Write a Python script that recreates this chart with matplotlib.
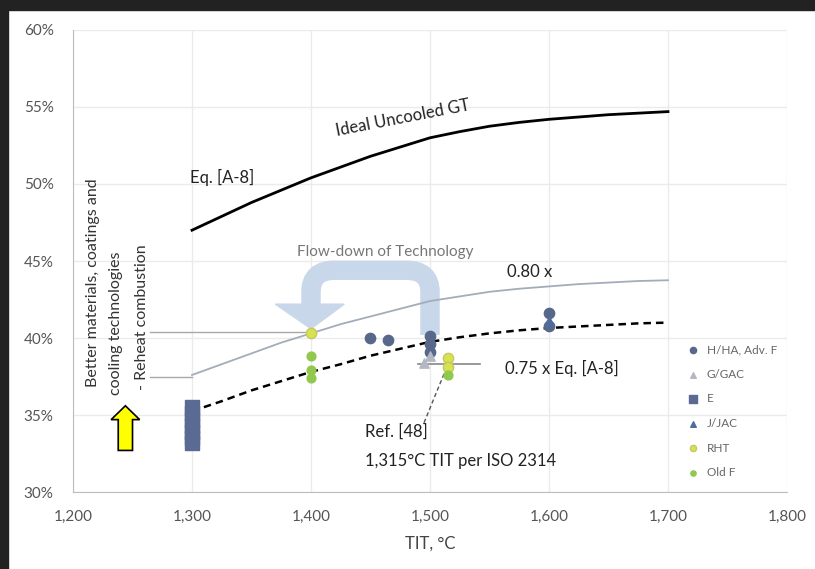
import numpy as np
import matplotlib
matplotlib.use('Agg')
import matplotlib.pyplot as plt
from matplotlib.patches import Rectangle, Polygon, PathPatch, FancyArrow
from matplotlib.path import Path

plt.rcParams['font.family'] = ['Lato', 'DejaVu Sans']

# curvas
tit_curva = [1300, 1325, 1350, 1375, 1400, 1425, 1450, 1475, 1500,
             1525, 1550, 1575, 1600, 1625, 1650, 1675, 1700]
ideal = [47.0, 47.9, 48.8, 49.6, 50.4, 51.1, 51.8, 52.4, 53.0,
         53.4, 53.75, 54.0, 54.2, 54.35, 54.5, 54.6, 54.7]
x080 = [37.6, 38.3, 39.0, 39.7, 40.3, 40.9, 41.4, 41.9, 42.4,
        42.7, 43.0, 43.2, 43.35, 43.5, 43.6, 43.7, 43.75]
x075 = [35.25, 35.9, 36.6, 37.2, 37.8, 38.3, 38.85, 39.3, 39.75,
        40.05, 40.3, 40.5, 40.65, 40.75, 40.85, 40.95, 41.0]

# puntos por clase
h_tit = [1450, 1465, 1500, 1500, 1500, 1600, 1600]
h_ef = [40.0, 39.9, 40.1, 39.6, 39.1, 41.6, 40.8]
g_tit = [1500, 1495]
g_ef = [38.8, 38.4]
e_tit = [1300, 1300, 1300, 1300, 1300, 1300, 1300]
e_ef = [35.5, 35.1, 34.7, 34.3, 33.9, 33.5, 33.2]
j_tit = [1600]
j_ef = [41.1]
rht_tit = [1400, 1515, 1515]
rht_ef = [40.3, 38.7, 38.1]
oldf_tit = [1400, 1400, 1400, 1515]
oldf_ef = [38.8, 37.9, 37.4, 37.6]

fig = plt.figure(figsize=(8.15, 5.69), dpi=100)
ax = fig.add_axes([0.0896, 0.1353, 0.8760, 0.8120])

# bordo escuro
fig.patches.append(Rectangle((0, 1 - 10/569), 1, 10/569, transform=fig.transFigure,
                             color='#222222', zorder=-1))
fig.patches.append(Rectangle((0, 0), 8/815, 1, transform=fig.transFigure,
                             color='#222222', zorder=-1))

ax.set_xlim(1200, 1800)
ax.set_ylim(30, 60)
ax.set_xticks(np.arange(1200, 1801, 100))
ax.set_yticks(np.arange(30, 61, 5))
ax.set_xticklabels([f'{v:,}' for v in range(1200, 1801, 100)])
ax.set_yticklabels([f'{v}%' for v in range(30, 61, 5)])
ax.grid(True, color='#ebebeb', lw=1)
ax.set_axisbelow(True)
for s in ['top', 'right']:
    ax.spines[s].set_visible(False)
for s in ['left', 'bottom']:
    ax.spines[s].set_color('#bdbdbd')
ax.tick_params(length=0, labelsize=11, colors='#555555')
ax.tick_params(axis='x', pad=13)
ax.tick_params(axis='y', pad=14)
ax.set_xlabel('TIT, °C', fontsize=12, color='#444444', labelpad=8)

# liñas horizontais
ax.plot([1265, 1400], [40.4, 40.4], color='#a8a8a8', lw=1)
ax.plot([1265, 1300], [37.5, 37.5], color='#a8a8a8', lw=1)
ax.plot([1490, 1542], [38.3, 38.3], color='#888888', lw=1.2)

ax.plot(tit_curva, ideal, color='black', lw=2, zorder=3)
ax.plot(tit_curva, x080, color='#a4abbb', lw=1.3, zorder=3)
ax.plot(tit_curva, x075, color='black', lw=1.8, ls=(0, (3, 2)), zorder=3)

# frecha azul
vs = [(1500, 40.2), (1500, 43.0), (1500, 44.4), (1480, 44.4), (1420, 44.4),
      (1400, 44.4), (1400, 43.0), (1400, 42.1)]
cd = [Path.MOVETO, Path.LINETO, Path.CURVE3, Path.CURVE3, Path.LINETO,
      Path.CURVE3, Path.CURVE3, Path.LINETO]
ax.add_patch(PathPatch(Path(vs, cd), fill=False, edgecolor='#c9d7ea', lw=14,
                       capstyle='butt', zorder=2))
ax.add_patch(Polygon([(1370, 42.2), (1428, 42.2), (1400, 40.6)], closed=True,
                     color='#c9d7ea', zorder=2))

# frecha amarela
ax.add_patch(FancyArrow(1244, 32.7, 0, 2.9, width=12, head_width=24, head_length=0.9,
                        length_includes_head=True, facecolor='#ffff00',
                        edgecolor='black', lw=1.2, zorder=4))

ax.scatter(h_tit, h_ef, marker='o', s=55, color='#58688a', zorder=5, label='H/HA, Adv. F')
ax.scatter(g_tit, g_ef, marker='^', s=45, color='#b4b8c4', zorder=5, label='G/GAC')
ax.scatter(e_tit, e_ef, marker='s', s=90, color='#5b6a92', zorder=5, label='E')
ax.scatter(j_tit, j_ef, marker='^', s=45, color='#4f6c9c', zorder=5, label='J/JAC')
ax.scatter(rht_tit, rht_ef, marker='o', s=55, color='#d8e24c', edgecolor='#c3c864',
           zorder=5, label='RHT')
ax.scatter(oldf_tit, oldf_ef, marker='o', s=40, color='#92c84e', zorder=5, label='Old F')

ax.legend(loc='upper left', bbox_to_anchor=(0.845, 0.33), frameon=False, fontsize=8.5,
          labelcolor='#666666', labelspacing=1.15, handletextpad=0.2, markerscale=0.6,
          borderaxespad=0)

# textos
ax.text(1477, 54.3, 'Ideal Uncooled GT', rotation=11, fontsize=12, ha='center',
        va='center', color='#222222')
ax.text(1325, 50.4, 'Eq. [A-8]', fontsize=12, ha='center', va='center', color='#222222')
ax.text(1462, 45.6, 'Flow-down of Technology', fontsize=11, ha='center', va='center',
        color='#777777')
ax.text(1584, 44.3, '0.80 x', fontsize=12, ha='center', va='center', color='#222222')
ax.text(1563, 38.0, '0.75 x Eq. [A-8]', fontsize=12, ha='left', va='center',
        color='#222222')
ax.text(1445, 33.9, 'Ref. [48]', fontsize=12, ha='left', va='center', color='#222222')
ax.text(1445, 32.0, '1,315°C TIT per ISO 2314', fontsize=12, ha='left', va='center',
        color='#222222')
ax.plot([1495, 1513], [34.5, 37.9], color='#555555', lw=1, ls=(0, (3, 2)), zorder=4)

ax.text(1217, 36.8, 'Better materials, coatings and', rotation=90, fontsize=11.5,
        ha='center', va='bottom', color='#333333')
ax.text(1236, 36.3, 'cooling technologies', rotation=90, fontsize=11.5,
        ha='center', va='bottom', color='#333333')
ax.text(1258, 36.6, '- Reheat combustion', rotation=90, fontsize=11.5,
        ha='center', va='bottom', color='#333333')

plt.savefig('out.png', dpi=100)
